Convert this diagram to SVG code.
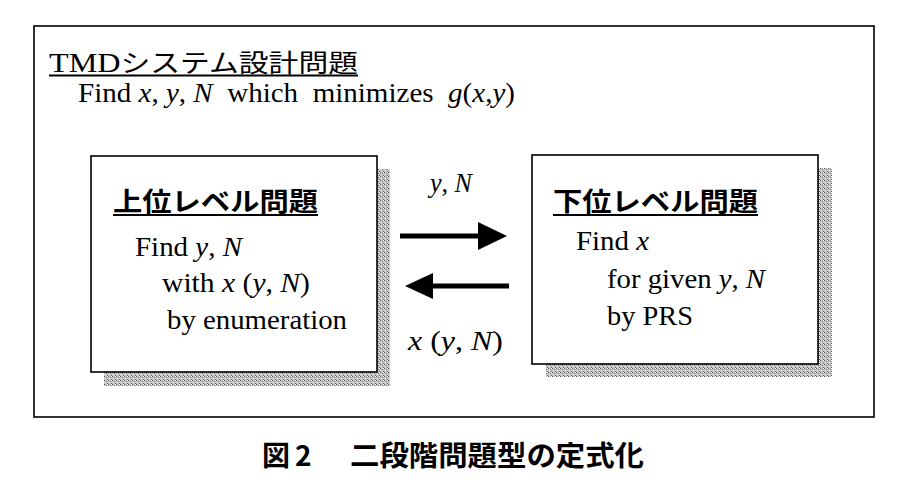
<svg xmlns="http://www.w3.org/2000/svg" width="899" height="494" viewBox="0 0 899 494">
<defs>
<pattern id="stipple" width="4" height="4" patternUnits="userSpaceOnUse">
<rect width="4" height="4" fill="#c4c4c4"/>
<rect x="0" y="0" width="1" height="1" fill="#555"/>
<rect x="2" y="1" width="1" height="1" fill="#777"/>
<rect x="1" y="2" width="1" height="1" fill="#eee"/>
<rect x="3" y="3" width="1" height="1" fill="#666"/>
<rect x="3" y="0" width="1" height="1" fill="#fff"/>
</pattern>
<style>
.frame{fill:#fff;stroke:#000;stroke-width:1.6}
.shadow{fill:url(#stipple)}
.lat{font-family:"Liberation Serif","Times New Roman",serif;font-size:27px;fill:#000}
.i{font-style:italic}
.jt{font-family:"Noto Sans CJK JP","Noto Sans",sans-serif;font-size:25px;fill:#000}
.jh{font-family:"Noto Sans CJK JP","Noto Sans",sans-serif;font-size:26px;font-weight:bold;fill:#000}
.cap{font-family:"Noto Sans CJK JP","Noto Sans",sans-serif;font-size:28px;font-weight:bold;fill:#000}
.ul{stroke:#000;stroke-width:2}
.arr{stroke:#000;stroke-width:5;fill:none}
.head{fill:#000}
</style>
</defs>
<rect width="899" height="494" fill="#fff"/>

<g id="system">
<rect class="frame" x="34" y="26" width="840" height="391"/>
<text x="49" y="72" textLength="309" lengthAdjust="spacingAndGlyphs"><tspan class="lat" font-size="27">TMD</tspan><tspan class="jt">システム設計問題</tspan></text>
<line class="ul" x1="49" y1="75.5" x2="358" y2="75.5"/>
<text class="lat" x="78" y="102" textLength="437" lengthAdjust="spacingAndGlyphs" xml:space="preserve">Find <tspan class="i">x</tspan>, <tspan class="i">y</tspan>, <tspan class="i">N</tspan>  which  minimizes  <tspan class="i">g</tspan>(<tspan class="i">x</tspan>,<tspan class="i">y</tspan>)</text>
</g>

<g id="upper">
<rect class="shadow" x="104" y="169" width="286" height="217"/>
<rect class="frame" x="91" y="156" width="286" height="216"/>
<text class="jh" x="113" y="211" textLength="205" lengthAdjust="spacingAndGlyphs">上位レベル問題</text>
<line class="ul" x1="113" y1="215" x2="318" y2="215"/>
<text class="lat" x="135" y="256" textLength="107" lengthAdjust="spacingAndGlyphs">Find <tspan class="i">y</tspan>, <tspan class="i">N</tspan></text>
<text class="lat" x="162" y="292" textLength="148" lengthAdjust="spacingAndGlyphs">with <tspan class="i">x</tspan> (<tspan class="i">y</tspan>, <tspan class="i">N</tspan>)</text>
<text class="lat" x="167" y="329" textLength="180" lengthAdjust="spacingAndGlyphs">by enumeration</text>
</g>

<g id="lower">
<rect class="shadow" x="546" y="168" width="286" height="209"/>
<rect class="frame" x="532" y="155" width="286" height="209"/>
<text class="jh" x="553" y="211" textLength="205" lengthAdjust="spacingAndGlyphs">下位レベル問題</text>
<line class="ul" x1="553" y1="215" x2="758" y2="215"/>
<text class="lat" x="576" y="250" textLength="73" lengthAdjust="spacingAndGlyphs">Find <tspan class="i">x</tspan></text>
<text class="lat" x="607" y="288" textLength="158" lengthAdjust="spacingAndGlyphs">for given <tspan class="i">y</tspan>, <tspan class="i">N</tspan></text>
<text class="lat" x="607" y="325" textLength="86" lengthAdjust="spacingAndGlyphs">by PRS</text>
</g>

<g id="connectors">
<line class="arr" x1="400" y1="236" x2="482" y2="236"/>
<polygon class="head" points="478,222 507,236 478,250"/>
<text class="lat" x="430" y="192" textLength="42" lengthAdjust="spacingAndGlyphs"><tspan class="i">y</tspan>, <tspan class="i">N</tspan></text>
<line class="arr" x1="429" y1="286" x2="509" y2="286"/>
<polygon class="head" points="405,286 433,273 433,299"/>
<text class="lat" x="408" y="350" textLength="95" lengthAdjust="spacingAndGlyphs"><tspan class="i">x</tspan> (<tspan class="i">y</tspan>, <tspan class="i">N</tspan>)</text>
</g>

<g id="caption">
<text class="cap" y="466"><tspan x="262">図</tspan><tspan x="295">2</tspan><tspan x="350" textLength="294" lengthAdjust="spacingAndGlyphs">二段階問題型の定式化</tspan></text>
</g>
</svg>
